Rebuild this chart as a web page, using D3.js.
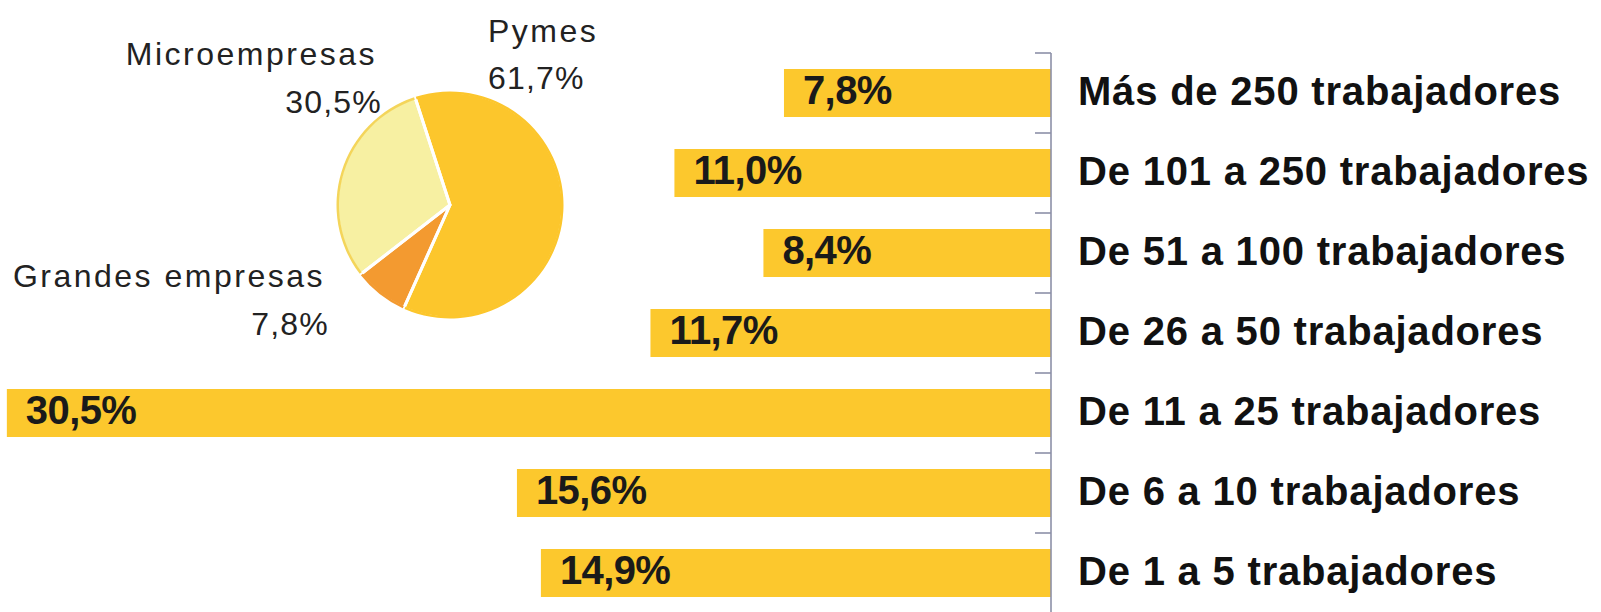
<!DOCTYPE html>
<html>
<head>
<meta charset="utf-8">
<script src="https://cdn.jsdelivr.net/npm/d3@7"></script>
<style>
  html, body { margin: 0; padding: 0; background: #ffffff; }
  svg { display: block; }
</style>
</head>
<body>
<svg id="chart" width="1601" height="612"></svg>
<script>
// ---- data ----
const categories = [
  "Más de 250 trabajadores",
  "De 101 a 250 trabajadores",
  "De 51 a 100 trabajadores",
  "De 26 a 50 trabajadores",
  "De 11 a 25 trabajadores",
  "De 6 a 10 trabajadores",
  "De 1 a 5 trabajadores"
];
const values = [7.8, 11.0, 8.4, 11.7, 30.5, 15.6, 14.9];

const pieCategories = ["Pymes", "Grandes empresas", "Microempresas"];
const pieValues = [61.7, 7.8, 30.5];

// ---- setup ----
const svg = d3.select("#chart");
const fmt = d3.formatLocale({decimal: ",", thousands: ".", grouping: [3], currency: ["", ""]}).format(".1f");
const pct = v => fmt(v) + "%";

const barColor = "#FCC82D";
const axisX = 1051;

// ---- bar chart ----
const x = d3.scaleLinear().domain([0, 30.7]).range([axisX, 0]);
const y = d3.scaleBand().domain(categories).range([53, 613]).paddingInner(0.4).paddingOuter(0.2);
const step = y.step();
const gap = (step - y.bandwidth()) / 2;

const bars = svg.append("g");
bars.selectAll("rect").data(values).join("rect")
  .attr("x", d => x(d))
  .attr("y", (d, i) => y(categories[i]))
  .attr("width", d => x(0) - x(d))
  .attr("height", y.bandwidth())
  .attr("fill", barColor);

bars.selectAll("text.val").data(values).join("text")
  .attr("class", "val")
  .attr("x", d => x(d) + 19)
  .attr("y", (d, i) => y(categories[i]) + y.bandwidth() / 2 + 11)
  .attr("font-family", "'Liberation Sans', Arial, sans-serif")
  .attr("font-weight", "bold")
  .attr("font-size", 40)
  .attr("letter-spacing", -0.6)
  .attr("fill", "#1a1a1a")
  .text(d => pct(d));

// axis line + ticks at band boundaries
const axisG = svg.append("g").attr("stroke", "#8C90A8").attr("stroke-width", 1.6);
axisG.append("line")
  .attr("x1", axisX).attr("x2", axisX)
  .attr("y1", y.range()[0]).attr("y2", y.range()[1]);
const tickYs = categories.map(c => y(c) - gap).concat([y(categories[categories.length - 1]) + y.bandwidth() + gap]);
axisG.selectAll("line.tick").data(tickYs).join("line")
  .attr("class", "tick")
  .attr("x1", axisX - 16).attr("x2", axisX)
  .attr("y1", d => d).attr("y2", d => d);

// category labels
svg.append("g").selectAll("text").data(categories).join("text")
  .attr("x", axisX + 27)
  .attr("y", d => y(d) + y.bandwidth() / 2 + 12)
  .attr("font-family", "'Liberation Sans', Arial, sans-serif")
  .attr("font-weight", "bold")
  .attr("font-size", 40)
  .attr("letter-spacing", 0.8)
  .attr("fill", "#111")
  .text(d => d);

// ---- pie chart ----
const cx = 450, cy = 205, R = 113;
const pieColors = d3.scaleOrdinal().domain(pieCategories).range(["#FCC62C", "#F39A30", "#F7F0A2"]);
const startA = -18 * Math.PI / 180;
const pie = d3.pie().sort(null).startAngle(startA).endAngle(startA + 2 * Math.PI);
const arcs = pie(pieValues);
const arc = d3.arc().innerRadius(0).outerRadius(R);

const pg = svg.append("g").attr("transform", `translate(${cx},${cy})`);
pg.selectAll("path.slice").data(arcs).join("path")
  .attr("class", "slice")
  .attr("d", arc)
  .attr("fill", (d, i) => pieColors(pieCategories[i]));

// white separators
pg.selectAll("path.sep").data(arcs).join("path")
  .attr("class", "sep")
  .attr("d", arc)
  .attr("fill", "none")
  .attr("stroke", "#ffffff")
  .attr("stroke-width", 3)
  .attr("stroke-linejoin", "round");
// outer rim (keeps the outer edge coloured; yellow rim on the light slice)
pg.selectAll("path.outer").data(arcs).join("path")
  .attr("class", "outer")
  .attr("d", d3.arc().innerRadius(R - 2).outerRadius(R + 0.5).padAngle(0.012))
  .attr("fill", (d, i) => i === 2 ? "#F4D55A" : pieColors(pieCategories[i]));

// pie labels (offsets relative to pie centre)
const pieLabelPos = [
  {name: [38, -163], val: [38, -116], anchor: "start"},   // Pymes
  {name: [-125, 82], val: [-121, 130], anchor: "end"},    // Grandes empresas
  {name: [-73, -140], val: [-68, -92], anchor: "end"}     // Microempresas
];
const lg = svg.append("g")
  .attr("font-family", "'Liberation Sans', Arial, sans-serif")
  .attr("font-size", 32)
  .attr("fill", "#222");
pieCategories.forEach((c, i) => {
  const p = pieLabelPos[i];
  lg.append("text")
    .attr("x", cx + p.name[0]).attr("y", cy + p.name[1])
    .attr("text-anchor", p.anchor)
    .attr("letter-spacing", 2.5)
    .text(c);
  lg.append("text")
    .attr("x", cx + p.val[0]).attr("y", cy + p.val[1])
    .attr("text-anchor", p.anchor)
    .attr("letter-spacing", 1.2)
    .text(pct(pieValues[i]));
});
</script>
</body>
</html>
